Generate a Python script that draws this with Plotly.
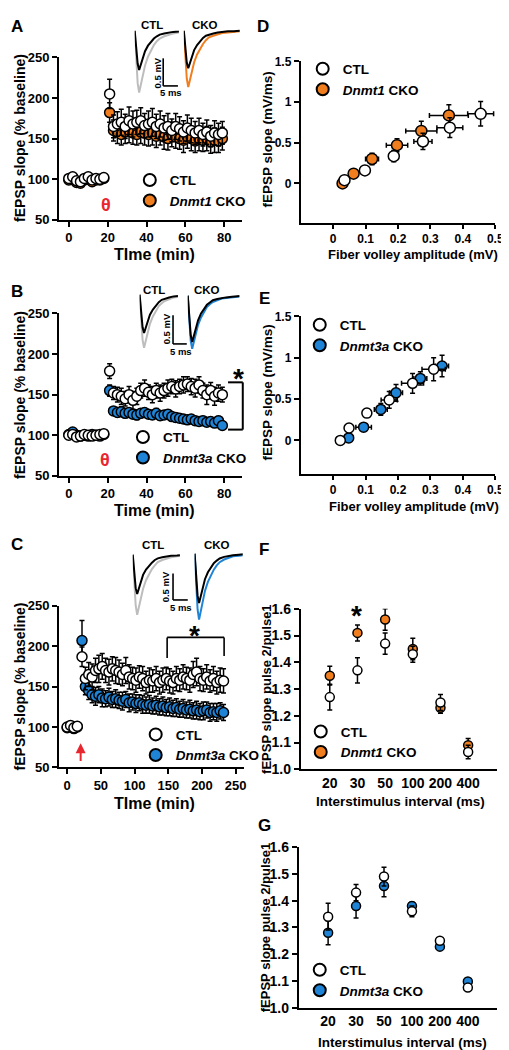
import plotly.graph_objects as go

# ---------------- data ----------------
# Panel A (Dnmt1, theta burst LTP)
A_time = [0, 2, 4, 6, 8, 10, 12, 14, 16, 18,
          21, 23, 25, 27, 29, 31, 33, 35, 37, 39, 41, 43, 45, 47, 49, 51, 53, 55, 57, 59,
          61, 63, 65, 67, 69, 71, 73, 75, 77, 79]
A_ctl = [101, 103, 98, 97, 101, 103, 99, 101, 100, 102,
         205, 165, 168, 170, 165, 172, 168, 170, 172, 166, 168, 170, 165, 168, 163, 165, 160, 165, 162, 158,
         163, 160, 157, 160, 155, 158, 153, 157, 155, 157]
A_ctl_err = [3, 3, 3, 3, 3, 3, 3, 3, 3, 3,
             18, 14, 15, 16, 15, 17, 16, 15, 16, 15, 16, 17, 15, 16, 15, 16, 14, 16, 15, 14,
             16, 15, 14, 15, 14, 15, 13, 15, 14, 14]
A_cko = [99, 100, 96, 95, 99, 100, 97, 99, 99, 101,
         182, 160, 158, 155, 158, 160, 157, 155, 158, 157, 155, 157, 153, 155, 152, 150, 155, 152, 150, 148,
         152, 150, 147, 150, 148, 150, 146, 148, 147, 150]
A_cko_err = [3, 3, 3, 3, 3, 3, 3, 3, 3, 3,
             12, 13, 14, 13, 14, 15, 14, 13, 14, 15, 14, 15, 14, 13, 15, 14, 15, 14, 13, 15,
             14, 15, 14, 15, 14, 15, 14, 15, 14, 14]

# Panel B (Dnmt3a, theta burst LTP)
B_time = A_time
B_ctl = [100, 101, 98, 99, 101, 100, 99, 100, 101, 102,
         179, 152, 150, 148, 145, 150, 143, 148, 155, 158, 153, 150, 155, 152, 155, 158, 160, 157, 160, 162,
         163, 160, 158, 162, 155, 150, 155, 148, 152, 150]
B_ctl_err = [3, 3, 3, 3, 3, 3, 3, 3, 3, 3,
             9, 8, 9, 10, 9, 10, 11, 10, 9, 10, 9, 10, 9, 10, 9, 10, 9, 10, 9, 10,
             9, 10, 11, 10, 9, 12, 10, 11, 10, 9]
B_cko = [101, 104, 100, 99, 100, 99, 101, 100, 99, 101,
         155, 130, 128, 129, 127, 128, 126, 125, 127, 128, 126, 125, 127, 124, 125, 126, 123, 122, 121, 120,
         119, 120, 118, 117, 118, 116, 117, 115, 118, 112]
B_cko_err = [2, 2, 2, 2, 2, 2, 2, 2, 2, 2,
             7, 5, 5, 6, 5, 5, 5, 6, 5, 5, 5, 5, 6, 5, 5, 5, 5, 5, 4, 5,
             5, 4, 5, 4, 5, 4, 5, 4, 5, 4]

# Panel C (Dnmt3a, HFS LTP, long recording)
C_time = [0, 5, 10, 15,
          22, 27, 32, 37, 42, 47, 52, 57, 62, 67, 72, 77, 82, 87, 92, 97, 102, 107, 112, 117, 122,
          127, 132, 137, 142, 147, 152, 157, 162, 167, 172, 177, 182, 187, 192, 197, 202, 207, 212,
          217, 222, 227, 232]
C_ctl = [100, 102, 99, 101,
         187, 160, 165, 162, 170, 172, 175, 170, 168, 172, 170, 168, 165, 170, 162, 160, 158, 162, 160,
         155, 158, 157, 160, 155, 158, 160, 157, 155, 160, 158, 162, 160, 158, 165, 168, 160, 158, 162,
         157, 160, 155, 158, 157]
C_ctl_err = [4, 4, 4, 4,
             12, 14, 15, 16, 15, 17, 16, 15, 16, 15, 16, 15, 14, 16, 15, 14, 15, 14, 15,
             14, 15, 14, 15, 14, 15, 14, 15, 14, 15, 14, 15, 14, 15, 16, 17, 15, 14, 15,
             14, 15, 14, 15, 15]
C_cko = [99, 101, 98, 100,
         207, 150, 145, 140, 138, 140, 136, 135, 137, 134, 135, 133, 132, 134, 130, 131, 129, 130, 128,
         127, 128, 126, 127, 125, 126, 124, 125, 123, 124, 122, 123, 121, 122, 120, 121, 119, 120, 121,
         118, 119, 118, 120, 118]
C_cko_err = [3, 3, 3, 3,
             25, 10, 11, 10, 11, 10, 11, 10, 11, 10, 11, 10, 11, 10, 11, 10, 11, 10, 11,
             10, 11, 10, 11, 10, 11, 10, 11, 10, 11, 10, 11, 10, 11, 10, 11, 10, 11, 10,
             11, 10, 11, 10, 10]

# Panel D (input-output, Dnmt1)
D_ctl_x = [0.035, 0.098, 0.187, 0.277, 0.36, 0.455]
D_ctl_y = [0.04, 0.16, 0.335, 0.515, 0.685, 0.855]
D_ctl_xerr = [0.005, 0.01, 0.014, 0.028, 0.04, 0.04]
D_ctl_yerr = [0.01, 0.02, 0.07, 0.1, 0.12, 0.15]
D_cko_x = [0.029, 0.063, 0.12, 0.197, 0.272, 0.357]
D_cko_y = [0.0, 0.12, 0.30, 0.47, 0.645, 0.835]
D_cko_xerr = [0.004, 0.01, 0.02, 0.033, 0.048, 0.06]
D_cko_yerr = [0.01, 0.03, 0.07, 0.08, 0.12, 0.13]

# Panel E (input-output, Dnmt3a)
E_ctl_x = [0.022, 0.049, 0.104, 0.173, 0.245, 0.31]
E_ctl_y = [0.0, 0.15, 0.33, 0.49, 0.69, 0.86]
E_ctl_xerr = [0.003, 0.006, 0.01, 0.025, 0.034, 0.036]
E_ctl_yerr = [0.01, 0.02, 0.05, 0.1, 0.12, 0.14]
E_cko_x = [0.048, 0.094, 0.147, 0.194, 0.269, 0.336]
E_cko_y = [0.03, 0.16, 0.375, 0.575, 0.75, 0.90]
E_cko_xerr = [0.01, 0.024, 0.02, 0.02, 0.02, 0.02]
E_cko_yerr = [0.02, 0.02, 0.07, 0.1, 0.08, 0.13]

# Panels F, G (paired pulse ratio)
isi = ["20", "30", "50", "100", "200", "400"]
F_ctl = [1.27, 1.37, 1.47, 1.43, 1.25, 1.065]
F_ctl_err = [0.048, 0.047, 0.04, 0.03, 0.03, 0.025]
F_cko = [1.35, 1.51, 1.56, 1.45, 1.23, 1.09]
F_cko_err = [0.035, 0.03, 0.04, 0.04, 0.02, 0.025]
G_ctl = [1.34, 1.43, 1.49, 1.36, 1.25, 1.075]
G_ctl_err = [0.05, 0.03, 0.035, 0.02, 0.01, 0.01]
G_cko = [1.28, 1.38, 1.455, 1.38, 1.228, 1.098]
G_cko_err = [0.045, 0.045, 0.04, 0.015, 0.01, 0.01]

# example fEPSP traces (ms, mV)
trace_t = [0, 0.5, 1, 1.5, 2, 2.5, 3.5, 4.5, 5.5, 6.5, 7.5, 8.5, 10, 11.5, 13, 15, 17, 19]
A_ctl_black = [0, -0.25, -0.6, -0.71, -0.63, -0.51, -0.37, -0.27, -0.2, -0.14, -0.1, -0.07, -0.05, -0.035, -0.02, -0.015, -0.01, 0]
A_ctl_grey = [0, -0.4, -0.95, -1.12, -1.0, -0.84, -0.63, -0.47, -0.35, -0.26, -0.19, -0.14, -0.1, -0.07, -0.05, -0.03, -0.02, -0.01]
A_cko_black = [0, -0.24, -0.58, -0.68, -0.6, -0.49, -0.35, -0.26, -0.19, -0.13, -0.09, -0.07, -0.05, -0.03, -0.02, -0.01, -0.01, 0]
A_cko_col = [0, -0.36, -0.87, -1.02, -0.91, -0.76, -0.57, -0.43, -0.32, -0.24, -0.17, -0.12, -0.09, -0.06, -0.04, -0.03, -0.02, -0.01]
B_ctl_black = [0, -0.23, -0.57, -0.67, -0.59, -0.48, -0.35, -0.26, -0.19, -0.13, -0.09, -0.07, -0.05, -0.03, -0.02, -0.01, -0.01, 0]
B_ctl_grey = [0, -0.33, -0.79, -0.93, -0.83, -0.69, -0.51, -0.38, -0.28, -0.2, -0.15, -0.11, -0.08, -0.05, -0.04, -0.03, -0.02, -0.01]
B_cko_black = [0, -0.28, -0.69, -0.81, -0.72, -0.59, -0.43, -0.31, -0.23, -0.16, -0.12, -0.08, -0.06, -0.04, -0.03, -0.02, -0.01, 0]
B_cko_col = [0, -0.33, -0.79, -0.93, -0.83, -0.69, -0.51, -0.38, -0.28, -0.2, -0.15, -0.11, -0.08, -0.05, -0.04, -0.03, -0.02, -0.01]
C_ctl_black = [0, -0.26, -0.63, -0.74, -0.65, -0.53, -0.38, -0.28, -0.21, -0.15, -0.1, -0.07, -0.05, -0.035, -0.02, -0.015, -0.01, 0]
C_ctl_grey = [0, -0.4, -0.96, -1.13, -1.01, -0.85, -0.64, -0.48, -0.36, -0.27, -0.2, -0.14, -0.1, -0.07, -0.05, -0.03, -0.02, -0.01]
C_cko_black = [0, -0.32, -0.79, -0.93, -0.82, -0.67, -0.48, -0.35, -0.26, -0.18, -0.13, -0.09, -0.06, -0.04, -0.03, -0.02, -0.01, 0]
C_cko_col = [0, -0.43, -1.05, -1.24, -1.11, -0.93, -0.7, -0.53, -0.4, -0.3, -0.22, -0.16, -0.11, -0.08, -0.05, -0.04, -0.02, -0.01]

# ---------------- style ----------------
W, H = 509, 1050
FONT = "Arial, Liberation Sans, Helvetica, sans-serif"
ORANGE = "#F07E1E"
BLUE = "#1F84D6"
GREY = "#BDBDBD"
RED = "#E8262E"


def fx(p):
    return p / W


def fy(p):
    return 1 - p / H


fig = go.Figure()


def add_series(ax, x, y, err, color, name, legend, size, rank, xerr=None):
    fig.add_trace(go.Scatter(
        x=x, y=y, mode="markers", xaxis="x" + ax, yaxis="y" + ax, name=name,
        legend=legend, legendrank=rank, showlegend=True,
        marker=dict(size=size, color=color, line=dict(color="black", width=1.5)),
        error_y=dict(type="data", array=err, visible=True, color="black", thickness=1.5, width=2.5),
        error_x=(dict(type="data", array=xerr, visible=True, color="black", thickness=1.5, width=2.5)
                 if xerr is not None else dict(visible=False)),
    ))


# A
add_series("", A_time, A_cko, A_cko_err, ORANGE, "<i>Dnmt1</i> CKO", "legend", 10, 2)
add_series("", A_time, A_ctl, A_ctl_err, "white", "CTL", "legend", 10, 1)
# B
add_series("2", B_time, B_cko, B_cko_err, BLUE, "<i>Dnmt3a</i> CKO", "legend2", 10, 2)
add_series("2", B_time, B_ctl, B_ctl_err, "white", "CTL", "legend2", 10, 1)
# C
add_series("3", C_time, C_cko, C_cko_err, BLUE, "<i>Dnmt3a</i> CKO", "legend3", 10, 2)
add_series("3", C_time, C_ctl, C_ctl_err, "white", "CTL", "legend3", 10, 1)
# D
add_series("4", D_cko_x, D_cko_y, D_cko_yerr, ORANGE, "<i>Dnmt1</i> CKO", "legend4", 11, 2, D_cko_xerr)
add_series("4", D_ctl_x, D_ctl_y, D_ctl_yerr, "white", "CTL", "legend4", 11, 1, D_ctl_xerr)
# E
add_series("5", E_cko_x, E_cko_y, E_cko_yerr, BLUE, "<i>Dnmt3a</i> CKO", "legend5", 10, 2, E_cko_xerr)
add_series("5", E_ctl_x, E_ctl_y, E_ctl_yerr, "white", "CTL", "legend5", 10, 1, E_ctl_xerr)
# F
add_series("6", isi, F_cko, F_cko_err, ORANGE, "<i>Dnmt1</i> CKO", "legend6", 9, 2)
add_series("6", isi, F_ctl, F_ctl_err, "white", "CTL", "legend6", 9, 1)
# G
add_series("7", isi, G_cko, G_cko_err, BLUE, "<i>Dnmt3a</i> CKO", "legend7", 9, 2)
add_series("7", isi, G_ctl, G_ctl_err, "white", "CTL", "legend7", 9, 1)

# insets
insets = [
    ("8", 129, 15, 15.0, 56, [(A_ctl_grey, GREY), (A_ctl_black, "black")]),
    ("9", 179, 15, 19.0, 56, [(A_cko_col, ORANGE), (A_cko_black, "black")]),
    ("10", 134, 283, 13.0, 58, [(B_ctl_grey, GREY), (B_ctl_black, "black")]),
    ("11", 183, 284, 17.5, 58, [(B_cko_col, BLUE), (B_cko_black, "black")]),
    ("12", 127, 547, 16.0, 54, [(C_ctl_grey, GREY), (C_ctl_black, "black")]),
    ("13", 190, 546, 16.3, 54, [(C_cko_col, BLUE), (C_cko_black, "black")]),
]
layout_axes = {}
for idx, x0, y0, tmax, pxmv, trs in insets:
    vmin, vmax = -1.35, 0.1
    layout_axes["xaxis" + idx] = dict(domain=[fx(x0), fx(x0 + 3 * tmax)], range=[0, tmax],
                                      visible=False, anchor="y" + idx, fixedrange=True)
    layout_axes["yaxis" + idx] = dict(domain=[fy(y0 - vmin * pxmv), fy(y0 - vmax * pxmv)],
                                      range=[vmin, vmax], visible=False, anchor="x" + idx, fixedrange=True)
    for vals, col in trs:
        fig.add_trace(go.Scatter(x=trace_t, y=vals, mode="lines", xaxis="x" + idx, yaxis="y" + idx,
                                 line=dict(color=col, width=2), showlegend=False, hoverinfo="skip"))

tickfont = dict(family=FONT, size=13, color="black", weight="bold")
base_ax = dict(showline=True, linecolor="black", linewidth=2, ticks="outside", ticklen=5, tickwidth=2,
               tickcolor="black", showgrid=False, zeroline=False, tickfont=tickfont, fixedrange=True)


def ax(**kw):
    d = dict(base_ax)
    d.update(kw)
    return d


small = dict(tickfont, size=12)
layout_axes.update({
    "xaxis": ax(domain=[fx(52), fx(238)], range=[-5, 89], tickvals=[0, 20, 40, 60, 80], anchor="y"),
    "yaxis": ax(domain=[fy(207), fy(42)], range=[50, 250], tickvals=[50, 100, 150, 200, 250], anchor="x"),
    "xaxis2": ax(domain=[fx(52), fx(238)], range=[-5, 89], tickvals=[0, 20, 40, 60, 80], anchor="y2"),
    "yaxis2": ax(domain=[fy(467), fy(302)], range=[50, 250], tickvals=[50, 100, 150, 200, 250], anchor="x2"),
    "xaxis3": ax(domain=[fx(52), fx(240)], range=[-12, 262], tickvals=[0, 50, 100, 150, 200, 250], anchor="y3"),
    "yaxis3": ax(domain=[fy(763), fy(599)], range=[50, 250], tickvals=[50, 100, 150, 200, 250], anchor="x3"),
    "xaxis4": ax(domain=[fx(298), fx(496)], range=[-0.1, 0.5], tickvals=[0, 0.1, 0.2, 0.3, 0.4, 0.5],
                 ticktext=["0", "0.1", "0.2", "0.3", "0.4", "0.5"], anchor="y4", ticklen=4, tickfont=small),
    "yaxis4": ax(domain=[fy(210), fy(46)], range=[-0.484, 1.5], tickvals=[0, 0.5, 1, 1.5],
                 ticktext=["0", "0.5", "1", "1.5"], anchor="x4", tickfont=small),
    "xaxis5": ax(domain=[fx(298), fx(496)], range=[-0.1, 0.5], tickvals=[0, 0.1, 0.2, 0.3, 0.4, 0.5],
                 ticktext=["0", "0.1", "0.2", "0.3", "0.4", "0.5"], anchor="y5", ticklen=4, tickfont=small),
    "yaxis5": ax(domain=[fy(465), fy(305)], range=[-0.405, 1.5], tickvals=[0, 0.5, 1, 1.5],
                 ticktext=["0", "0.5", "1", "1.5"], anchor="x5", tickfont=small),
    "xaxis6": ax(domain=[fx(298), fx(498)], type="category", range=[-1.05, 6.05], anchor="y6",
                 ticks="", tickfont=dict(tickfont, size=14)),
    "yaxis6": ax(domain=[fy(765), fy(602)], range=[1.0, 1.6], dtick=0.1, tickformat=".1f", anchor="x6",
                 tickfont=dict(tickfont, size=14)),
    "xaxis7": ax(domain=[fx(296), fx(498)], type="category", range=[-1.05, 6.05], anchor="y7",
                 ticks="", tickfont=dict(tickfont, size=14)),
    "yaxis7": ax(domain=[fy(1007), fy(844)], range=[1.0, 1.6], dtick=0.1, tickformat=".1f", anchor="x7",
                 tickfont=dict(tickfont, size=14)),
})

annotations = []


def ann(text, px, py, size, color="black", angle=0, xanchor="center", yanchor="middle"):
    annotations.append(dict(text=text, x=fx(px), y=fy(py), xref="paper", yref="paper", showarrow=False,
                            textangle=angle, xanchor=xanchor, yanchor=yanchor,
                            font=dict(family=FONT, size=size, color=color, weight="bold")))


# panel letters
for letter, px, py in [("A", 9, 11), ("D", 260, 11), ("B", 9, 280), ("E", 261, 287),
                       ("C", 9, 537), ("F", 261, 542), ("G", 261, 822)]:
    ann(letter, px, py, 17)

# axis titles
ann("TIme (min)", 149, 242, 16)
ann("Time (min)", 149, 502, 16)
ann("TIme (min)", 149, 800, 16)
for cy in (124, 385, 681):
    ann("fEPSP slope (% baseline)", 12, cy, 14, angle=-90)
ann("fEPSP slope (mV/ms)", 264, 125, 13.5, angle=-90)
ann("fEPSP slope (mV/ms)", 264, 382, 13.5, angle=-90)
ann("Fiber volley amplitude (mV)", 412, 242, 13)
ann("Fiber volley amplitude (mV)", 413, 498, 13)
ann("fEPSP slope pulse 2/pulse1", 263, 683, 13, angle=-90)
ann("fEPSP slope pulse 2/pulse1", 263, 925, 13, angle=-90)
ann("Interstimulus interval (ms)", 400, 798, 13.5)
ann("Interstimulus interval (ms)", 402, 1042, 13.5)

# inset labels
for txt, px, py in [("CTL", 147, 9), ("CKO", 201, 9), ("CTL", 149, 278), ("CKO", 203, 278),
                    ("CTL", 148, 537), ("CKO", 213, 537)]:
    ann(txt, px, py, 11.5)
for px, py in [(152, 58), (161, 318), (160, 580)]:
    ann("0.5 mV", px, py, 9.5, angle=-90)
for px, py in [(166, 78), (176, 341), (176, 601)]:
    ann("5 ms", px, py, 9.5)

# theta burst symbols
ann("θ", 100, 192, 18, color=RED)
ann("θ", 99, 451, 18, color=RED)

# stars
ann("*", 235, 368, 28)
ann("*", 190, 629, 28)
ann("*", 355, 609, 28)

# HFS arrow in C
annotations.append(dict(x=20, y=80, xref="x3", yref="y3", ax=20, ay=56, axref="x3", ayref="y3",
                        showarrow=True, arrowhead=2, arrowsize=1, arrowwidth=2, arrowcolor=RED, text=""))

shapes = []


def seg(x0, y0, x1, y1, w=1.6):
    shapes.append(dict(type="line", xref="paper", yref="paper", x0=fx(x0), y0=fy(y0), x1=fx(x1), y1=fy(y1),
                       line=dict(color="black", width=w)))


# scale bars
seg(158, 43, 158, 71); seg(158, 71, 173, 71)
seg(168, 304, 168, 333); seg(168, 333, 182, 333)
seg(168, 566, 168, 593); seg(168, 593, 183, 593)
# brackets
seg(224, 372, 239, 372, 2); seg(239, 372, 239, 420, 2); seg(224, 420, 239, 420, 2)
seg(162, 631, 220, 631, 1.6); seg(162, 631, 162, 652, 1.6); seg(220, 631, 220, 650, 1.6)

legfont = dict(family=FONT, size=13.5, color="black", weight="bold")


def leg(px, py):
    return dict(x=fx(px - 20), y=fy(py - 12), xanchor="left", yanchor="top", bgcolor="rgba(0,0,0,0)",
                font=legfont, itemsizing="constant", tracegroupgap=0, borderwidth=0)


fig.update_layout(
    width=W, height=H, autosize=False, margin=dict(l=0, r=0, t=0, b=0),
    paper_bgcolor="white", plot_bgcolor="white",
    legend=leg(144, 163), legend2=leg(137, 424), legend3=leg(150, 726),
    legend4=leg(320, 50), legend5=leg(317, 310), legend6=leg(318, 723), legend7=leg(317, 965),
    annotations=annotations, shapes=shapes, hovermode=False,
    **layout_axes,
)

fig.write_html("out.html", config={"displayModeBar": False})
